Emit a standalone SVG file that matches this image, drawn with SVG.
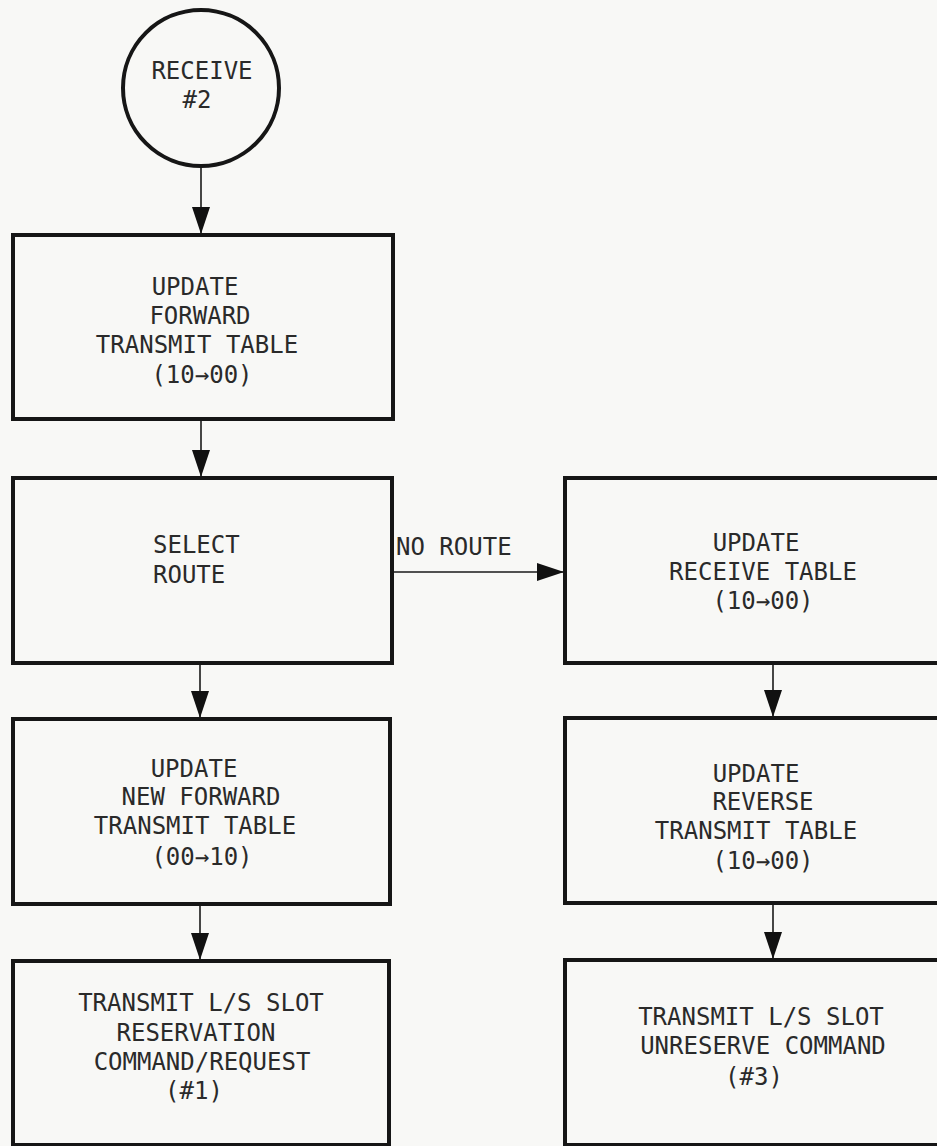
<svg xmlns="http://www.w3.org/2000/svg" width="937" height="1146" viewBox="0 0 937 1146">
  <style>
    .box { fill: none; stroke: #161616; stroke-width: 4; }
    .flow { fill: none; stroke: #1a1a1a; stroke-width: 1.6; marker-end: url(#head); }
    .lbl { font-family: "DejaVu Sans Mono", "Liberation Mono", monospace; font-size: 24px; fill: #2a2a2a; text-anchor: middle; }
    .lbl.left { text-anchor: start; }
  </style>
  <defs>
    <marker id="head" markerUnits="userSpaceOnUse" markerWidth="28" markerHeight="20" refX="27" refY="9" orient="auto">
      <path d="M0,0 L27,9 L0,18 Z" fill="#111"/>
    </marker>
  </defs>

  <rect width="937" height="1146" fill="#f8f8f6"/>

  <g id="connectors">
    <path class="flow" d="M201,166 V234"/>
    <path class="flow" d="M201,421 V477"/>
    <path class="flow" d="M200,665 V718"/>
    <path class="flow" d="M200,906 V960"/>
    <path class="flow" d="M392,572 H564"/>
    <path class="flow" d="M773,665 V717"/>
    <path class="flow" d="M773,905 V959"/>
    <text class="lbl left" x="396" y="555">NO ROUTE</text>
  </g>

  <g id="receive2">
    <circle class="box" cx="201" cy="88" r="78"/>
    <text class="lbl" x="202" y="79">RECEIVE</text>
    <text class="lbl" x="197" y="108">#2</text>
  </g>

  <g id="update-forward">
    <rect class="box" x="13" y="235" width="380" height="184"/>
    <text class="lbl" x="195" y="295">UPDATE</text>
    <text class="lbl" x="200" y="324">FORWARD</text>
    <text class="lbl" x="197" y="353">TRANSMIT TABLE</text>
    <text class="lbl" x="202" y="383">(10→00)</text>
  </g>

  <g id="select-route">
    <rect class="box" x="13" y="478" width="379" height="185"/>
    <text class="lbl left" x="153" y="553">SELECT</text>
    <text class="lbl left" x="153" y="583">ROUTE</text>
  </g>

  <g id="update-receive">
    <rect class="box" x="565" y="478" width="380" height="185"/>
    <text class="lbl" x="756" y="551">UPDATE</text>
    <text class="lbl" x="763" y="580">RECEIVE TABLE</text>
    <text class="lbl" x="763" y="609">(10→00)</text>
  </g>

  <g id="update-new-forward">
    <rect class="box" x="13" y="719" width="377" height="185"/>
    <text class="lbl" x="194" y="777">UPDATE</text>
    <text class="lbl" x="201" y="805">NEW FORWARD</text>
    <text class="lbl" x="195" y="834">TRANSMIT TABLE</text>
    <text class="lbl" x="202" y="865">(00→10)</text>
  </g>

  <g id="update-reverse">
    <rect class="box" x="565" y="718" width="380" height="185"/>
    <text class="lbl" x="756" y="782">UPDATE</text>
    <text class="lbl" x="763" y="810">REVERSE</text>
    <text class="lbl" x="756" y="839">TRANSMIT TABLE</text>
    <text class="lbl" x="763" y="869">(10→00)</text>
  </g>

  <g id="transmit-reservation">
    <rect class="box" x="13" y="961" width="376" height="184"/>
    <text class="lbl" x="201" y="1011">TRANSMIT L/S SLOT</text>
    <text class="lbl" x="196" y="1041">RESERVATION</text>
    <text class="lbl" x="202" y="1070">COMMAND/REQUEST</text>
    <text class="lbl" x="194" y="1099">(#1)</text>
  </g>

  <g id="transmit-unreserve">
    <rect class="box" x="565" y="960" width="380" height="185"/>
    <text class="lbl" x="761" y="1025">TRANSMIT L/S SLOT</text>
    <text class="lbl" x="763" y="1054">UNRESERVE COMMAND</text>
    <text class="lbl" x="754" y="1085">(#3)</text>
  </g>
</svg>
